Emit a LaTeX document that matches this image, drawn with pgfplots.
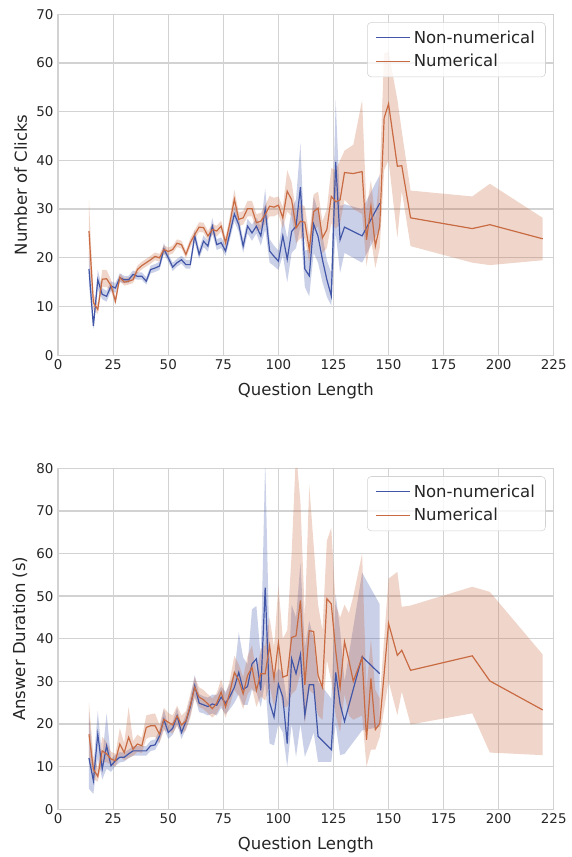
\documentclass[border=0pt]{standalone}
\usepackage{fontspec}
\setmainfont{DejaVu Sans}
\usepackage{pgfplots}
\pgfplotsset{compat=1.18}
\usepackage{pgfplotstable}
\usepgfplotslibrary{fillbetween}

\definecolor{cblue}{HTML}{4256A8}
\definecolor{corange}{HTML}{C86A42}
\definecolor{gridc}{HTML}{D2D2D2}
\definecolor{txt}{HTML}{262626}

% clicks, non-numerical
\pgfplotstableread{
x y lo hi
14 17.7 14.5 21
16 6.0 5.3 7.0
18 15.5 13.5 17.5
20 12.5 11.5 13.8
22 12.1 11.0 13.2
24 14.2 13.2 15.2
26 13.8 12.8 14.8
28 15.9 15.0 16.8
30 15.5 14.8 16.3
32 15.5 14.8 16.3
34 16.6 15.8 17.4
36 16.2 15.5 17.0
38 16.2 15.5 17.0
40 15.2 14.5 16.0
42 17.6 16.8 18.4
44 17.9 17.1 18.7
46 18.3 17.5 19.2
48 21.8 20.8 23.0
50 20.0 19.2 20.8
52 18.1 17.3 19.0
54 19.0 18.2 19.8
56 19.6 18.8 20.4
58 18.6 17.8 19.6
60 18.6 17.8 19.6
62 24.5 23.2 25.8
64 20.7 19.8 21.8
66 23.4 22.2 24.6
68 22.4 21.3 23.5
70 26.5 25.0 28.2
72 22.7 21.6 23.8
74 23.1 22.0 24.2
76 21.4 20.4 22.5
78 25.1 23.8 26.5
80 29.0 27.5 30.5
82 26.8 25.3 28.3
84 22.4 21.0 23.8
86 26.5 25.0 28.0
88 25.1 23.5 26.8
90 26.5 25.0 28.2
92 24.5 22.5 26.5
94 29.9 25.8 34.2
96 21.4 19.0 23.8
98 20.3 18.3 22.5
100 19.3 17.5 21.5
102 24.5 20.5 28.5
104 19.7 15.0 24.0
106 25.4 21.0 30.0
108 26.5 22.0 32.0
110 34.5 26.5 43.6
112 17.7 14.0 21.5
114 16.3 12.1 21.7
116 26.9 21.0 32.6
118 24.4 19.0 29.5
120 19.6 15.0 24.5
122 15.5 12.0 19.5
124 12.2 10.2 16.9
126 39.7 25.1 52.4
128 23.7 16.9 30.6
130 26.3 21.0 31.0
138 24.5 19.0 30.0
146 31.2 26.0 37.0
}\clicksnon

% clicks, numerical
\pgfplotstableread{
x y lo hi
14 25.5 19.5 31.8
16 10.8 9.3 12.6
18 9.4 8.5 10.5
20 15.6 14.0 17.5
22 15.7 14.0 17.5
24 14.3 13.2 15.5
26 11.1 10.3 12.0
28 16.0 15.2 16.8
30 15.0 14.3 15.8
32 15.2 14.5 16.0
34 15.5 14.8 16.3
36 17.6 16.8 18.4
38 18.4 17.6 19.2
40 19.0 18.2 19.8
42 19.6 18.8 20.4
44 20.3 19.5 21.1
46 20.0 19.2 20.8
48 21.7 20.8 22.6
50 21.3 20.5 22.1
52 21.7 20.9 22.5
54 23.0 22.2 23.8
56 22.7 21.9 23.5
58 20.7 19.9 21.5
60 23.1 22.2 24.0
62 24.8 23.9 25.7
64 26.3 25.3 27.3
66 26.2 25.2 27.2
68 24.5 23.5 25.5
70 25.8 24.7 26.9
72 25.5 24.4 26.6
74 26.5 25.4 27.6
76 23.1 22.0 24.2
78 27.2 25.8 28.6
80 32.0 30.0 34.0
82 27.9 26.5 29.3
84 28.2 26.8 29.6
86 30.1 28.5 31.7
88 30.1 28.5 31.7
90 27.2 25.5 29.0
92 27.5 25.8 29.2
94 28.9 27.0 30.8
96 30.6 28.5 32.7
98 30.4 28.5 32.3
100 30.8 29.0 32.6
102 28.2 26.0 30.4
104 33.7 29.5 38.0
106 31.9 28.5 35.5
108 26.1 23.0 29.5
110 27.5 24.0 31.0
112 27.3 24.0 30.5
114 21.7 19.0 24.5
116 29.5 25.5 33.0
118 30.2 26.5 33.6
120 24.1 21.0 27.5
122 25.8 22.0 30.0
124 32.6 27.0 38.4
126 31.5 26.0 38.0
128 31.9 27.0 40.0
130 37.5 31.9 42.0
134 37.3 30.0 43.2
138 37.7 29.0 52.4
140 23.7 18.3 30.0
142 30.6 24.0 36.0
144 22.4 17.9 28.0
146 26.5 22.0 37.4
148 48.7 38.0 62.0
150 51.6 40.0 62.3
154 38.8 24.1 52.5
156 38.9 33.7 46.0
160 28.2 22.4 33.8
188 26.0 19.0 32.6
196 26.8 18.5 35.2
220 23.9 19.5 28.2
}\clicksnum

% duration, non-numerical
\pgfplotstableread{
x y lo hi
14 12.0 4.8 22.7
16 6.7 3.6 10.0
18 17.6 12.0 23.1
20 9.4 7.0 12.0
22 14.9 9.5 22.5
24 10.2 8.8 11.8
26 11.4 10.2 12.8
28 12.2 11.0 13.4
30 12.2 11.2 13.3
32 13.0 12.0 14.0
34 13.7 12.6 14.8
36 13.7 12.6 14.8
38 13.7 12.6 14.8
40 13.7 12.6 14.8
42 14.9 13.7 16.1
44 15.1 13.9 16.4
46 17.2 15.8 18.6
48 21.1 19.0 23.5
50 18.0 16.5 19.5
52 19.0 17.5 20.5
54 21.9 20.0 23.8
56 18.0 16.5 19.6
58 20.6 18.8 22.2
60 24.0 22.0 26.0
62 29.0 26.5 31.5
64 24.9 22.8 27.0
66 24.5 22.5 26.5
68 24.1 22.0 26.2
70 24.7 22.5 26.9
72 24.4 22.0 26.8
74 26.3 23.8 28.8
76 24.9 22.3 27.5
78 26.5 23.5 29.5
80 28.6 25.0 32.0
82 32.1 27.0 41.5
84 28.1 24.5 35.6
86 28.8 24.5 34.0
88 34.1 28.0 46.9
90 35.3 27.5 47.7
92 27.9 24.0 35.6
94 52.0 30.0 82.0
96 25.1 15.4 36.0
98 21.6 15.0 31.0
100 29.4 20.0 33.0
102 26.3 18.0 32.0
104 15.4 10.0 25.0
106 35.3 20.0 48.0
108 31.8 12.3 45.0
110 36.3 20.0 57.8
112 22.0 12.3 38.0
114 29.2 15.0 44.2
116 29.2 18.0 40.0
118 17.1 11.1 30.0
124 14.0 11.1 26.0
126 32.1 20.0 50.4
128 24.7 12.7 42.0
130 20.6 13.0 30.0
138 35.8 18.5 55.5
146 31.8 19.3 48.1
}\durnon

% duration, numerical
\pgfplotstableread{
x y lo hi
14 17.6 11.0 25.0
16 9.4 7.0 12.5
18 7.7 6.5 9.5
20 13.7 11.0 17.0
22 13.0 11.0 15.7
24 11.8 10.5 13.5
26 11.4 10.0 13.0
28 15.3 12.5 19.0
30 13.3 11.5 15.5
32 16.9 12.0 24.0
34 14.1 12.5 16.0
36 15.3 13.5 17.5
38 14.9 13.2 16.8
40 19.2 16.5 22.0
42 19.6 17.0 22.3
44 19.6 17.0 22.5
46 17.6 15.5 19.8
48 21.1 18.5 23.8
50 20.4 18.3 22.6
52 19.8 17.8 22.0
54 21.9 19.5 24.3
56 19.8 17.8 22.0
58 20.7 18.5 23.0
60 24.4 21.5 27.0
62 28.6 26.0 31.0
64 26.3 24.0 28.6
66 25.7 23.5 28.0
68 24.7 22.5 27.0
70 23.6 21.5 26.0
72 24.9 22.5 27.3
74 27.5 24.5 30.5
76 24.0 21.5 26.8
78 27.5 24.5 30.5
80 32.1 28.0 36.0
82 30.3 26.5 34.0
84 27.1 23.5 31.0
86 31.4 27.0 36.0
88 33.3 28.5 38.5
90 27.9 24.0 32.0
92 31.8 26.5 37.5
94 31.8 25.5 38.5
96 38.4 29.0 45.0
98 30.6 24.0 38.0
100 39.1 30.0 52.4
102 31.0 24.0 40.0
104 31.4 24.0 42.0
106 40.3 27.0 60.0
108 40.7 28.0 84.0
110 49.0 32.0 72.0
112 29.2 20.0 45.0
114 41.9 28.0 76.0
116 41.7 27.0 62.0
118 31.4 22.0 48.0
120 28.6 21.0 42.0
122 49.4 35.0 63.0
124 48.2 30.0 66.0
126 37.2 22.0 48.0
128 28.5 18.0 45.0
130 39.3 27.0 48.0
132 34.9 22.0 46.0
134 30.0 21.0 50.0
138 35.6 22.0 60.0
140 16.3 10.0 28.0
142 30.7 14.0 40.0
144 18.7 14.0 28.0
146 20.1 17.0 26.0
150 43.6 30.0 54.1
154 36.1 22.1 55.7
156 37.3 27.6 47.5
160 32.6 19.9 47.8
188 36.0 22.5 52.2
196 30.1 13.3 51.0
220 23.3 12.7 36.3
}\durnum

\pgfplotsset{
  panel/.style={
    scale only axis, width=372.5pt, height=256.3pt,
    xmin=0, xmax=225, xtick={0,25,...,225},
    grid=major, grid style={gridc, line width=1pt},
    axis line style={gridc, line width=1pt},
    major tick length=0pt,
    /pgf/number format/assume math mode=true,
    tick label style={font=\fontsize{10.1}{12}\selectfont, text=txt},
    label style={font=\fontsize{12.4}{14}\selectfont, text=txt},
    xlabel={Question Length},
    xlabel style={yshift=-2.5pt},
    legend style={at={(1,1)}, anchor=north east, xshift=-6pt, yshift=-6pt,
      draw=gridc, rounded corners=3pt, fill=white, fill opacity=0.8, text opacity=1,
      font=\fontsize{12.4}{14}\selectfont, text=txt, row sep=3pt,
      inner xsep=6pt, inner ysep=4pt},
    legend cell align=left,
    legend image code/.code={\draw[##1] (0pt,0pt) -- (26pt,0pt);},
  },
  bline/.style={cblue, line width=0.9pt},
  oline/.style={corange, line width=0.9pt},
}

\begin{document}
\begin{tikzpicture}
\begin{axis}[panel, ymin=0, ymax=70, ytick={0,10,...,70}, ylabel={Number of Clicks}]
\addplot[name path=cnu, draw=none, forget plot] table[x=x, y=hi] {\clicksnon};
\addplot[name path=cnl, draw=none, forget plot] table[x=x, y=lo] {\clicksnon};
\addplot[cblue, fill opacity=0.28, draw=none, forget plot] fill between[of=cnu and cnl];
\addplot[bline] table[x=x, y=y] {\clicksnon};
\addlegendentry{Non-numerical}
\addplot[name path=cmu, draw=none, forget plot] table[x=x, y=hi] {\clicksnum};
\addplot[name path=cml, draw=none, forget plot] table[x=x, y=lo] {\clicksnum};
\addplot[corange, fill opacity=0.28, draw=none, forget plot] fill between[of=cmu and cml];
\addplot[oline] table[x=x, y=y] {\clicksnum};
\addlegendentry{Numerical}
\end{axis}

\begin{axis}[panel, at={(0pt,-341.25pt)}, ymin=0, ymax=80, ytick={0,10,...,80}, ylabel={Answer Duration (s)}]
\addplot[name path=dnu, draw=none, forget plot] table[x=x, y=hi] {\durnon};
\addplot[name path=dnl, draw=none, forget plot] table[x=x, y=lo] {\durnon};
\addplot[cblue, fill opacity=0.28, draw=none, forget plot] fill between[of=dnu and dnl];
\addplot[bline] table[x=x, y=y] {\durnon};
\addlegendentry{Non-numerical}
\addplot[name path=dmu, draw=none, forget plot] table[x=x, y=hi] {\durnum};
\addplot[name path=dml, draw=none, forget plot] table[x=x, y=lo] {\durnum};
\addplot[corange, fill opacity=0.28, draw=none, forget plot] fill between[of=dmu and dml];
\addplot[oline] table[x=x, y=y] {\durnum};
\addlegendentry{Numerical}
\end{axis}
\path (-43.7pt,-375.75pt) rectangle (386pt,267pt);
\end{tikzpicture}
\end{document}
